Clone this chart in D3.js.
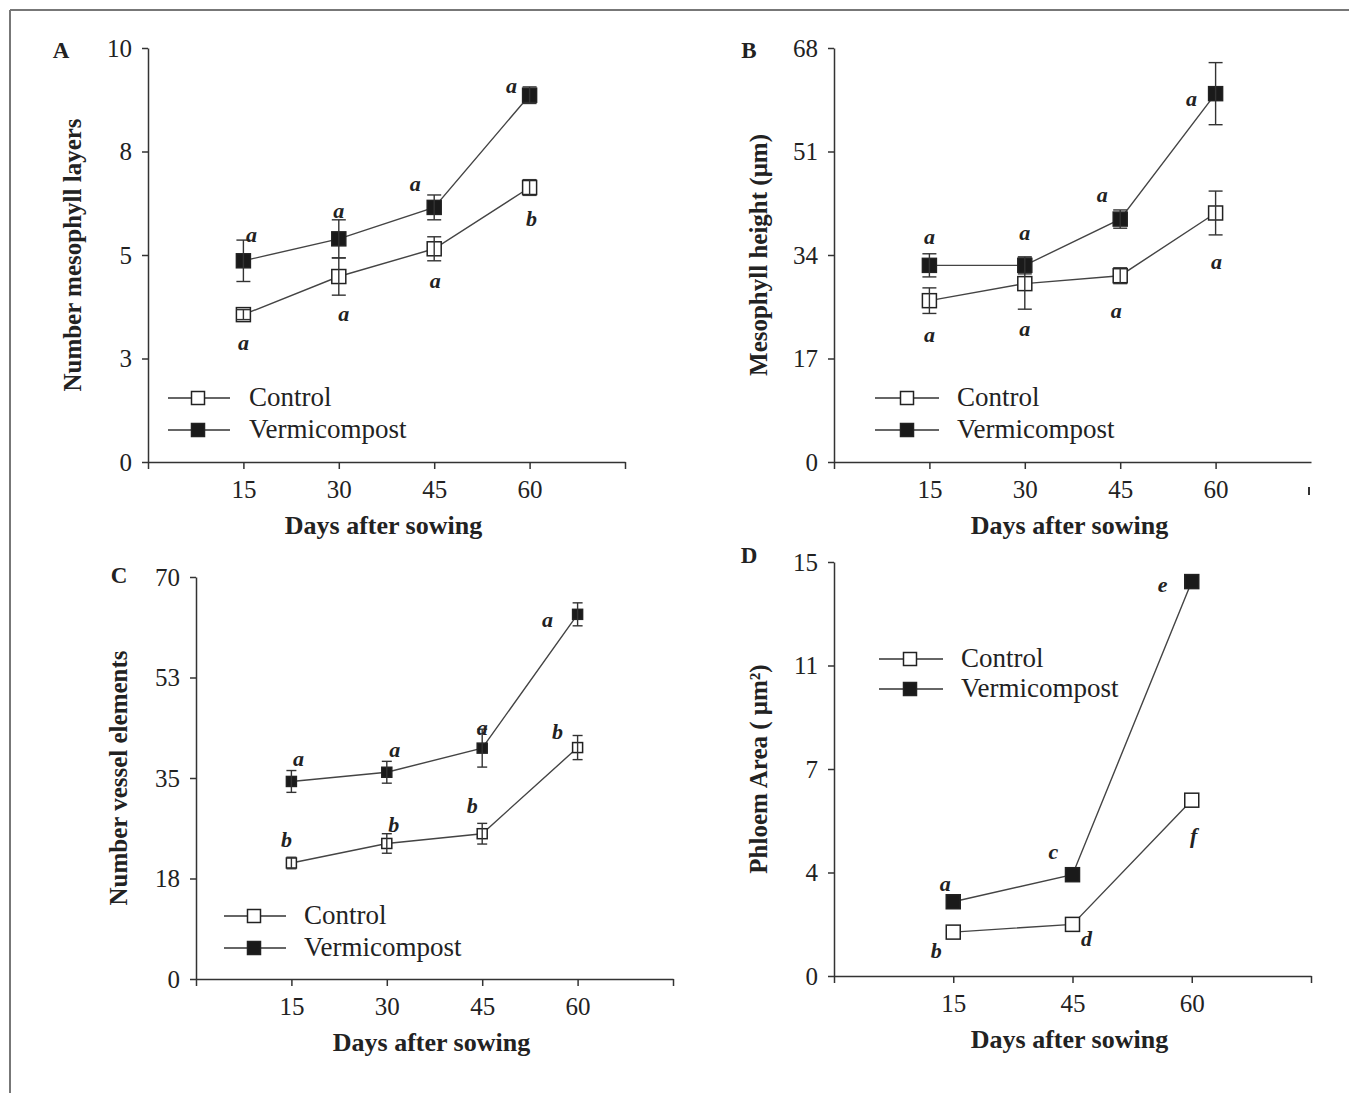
<!DOCTYPE html>
<html>
<head>
<meta charset="utf-8">
<script src="https://cdn.jsdelivr.net/npm/d3@7"></script>
<style>
  body { margin: 0; background: #fff; }
  svg text { font-family: "Liberation Serif", "Times New Roman", serif; fill: #222; }
</style>
</head>
<body>
<svg id="chart" width="1349" height="1093"></svg>
<script>
// ---- data ----
const days = [15, 30, 45, 60];
const daysPhloem = ["15", "45", "60"];
const seriesNames = ["Control", "Vermicompost"];

// A: number of mesophyll layers
const layersControl = [3.56, 4.48, 5.15, 6.63];
const layersControlErr = [0.12, 0.45, 0.29, 0.19];
const layersVermi = [4.86, 5.39, 6.15, 8.86];
const layersVermiErr = [0.5, 0.46, 0.3, 0.2];
const layersLettersControl = ["a", "a", "a", "b"];
const layersLettersVermi = ["a", "a", "a", "a"];
const layersTicks = [0, 2.5, 5, 7.5, 10];
const layersTickLabels = ["0", "3", "5", "8", "10"];

// B: mesophyll height (um)
const heightControl = [26.5, 29.3, 30.6, 40.9];
const heightControlErr = [2.1, 4.2, 1.3, 3.6];
const heightVermi = [32.3, 32.3, 39.9, 60.5];
const heightVermiErr = [1.9, 1.4, 1.5, 5.1];
const heightLettersControl = ["a", "a", "a", "a"];
const heightLettersVermi = ["a", "a", "a", "a"];
const heightTicks = [0, 17, 34, 51, 68];
const heightTickLabels = ["0", "17", "34", "51", "68"];

// C: number of vessel elements
const vesselControl = [20.2, 23.6, 25.3, 40.3];
const vesselControlErr = [1.0, 1.7, 1.8, 2.1];
const vesselVermi = [34.4, 36.0, 40.2, 63.5];
const vesselVermiErr = [1.9, 1.9, 3.3, 2.0];
const vesselLettersControl = ["b", "b", "b", "b"];
const vesselLettersVermi = ["a", "a", "a", "a"];
const vesselTicks = [0, 17.5, 35, 52.5, 70];
const vesselTickLabels = ["0", "18", "35", "53", "70"];

// D: phloem area (um2), no error bars
const phloemControl = [1.59, 1.87, 6.37];
const phloemVermi = [2.69, 3.67, 14.29];
const phloemLettersControl = ["b", "d", "f"];
const phloemLettersVermi = ["a", "c", "e"];
const phloemTicks = [0, 3.75, 7.5, 11.25, 15];
const phloemTickLabels = ["0", "4", "7", "11", "15"];

const svg = d3.select("#chart");

// frame lines of the figure box
svg.append("line").attr("x1", 10).attr("y1", 10).attr("x2", 10).attr("y2", 1093)
  .attr("stroke", "#777").attr("stroke-width", 2);
svg.append("line").attr("x1", 10).attr("y1", 10).attr("x2", 1349).attr("y2", 10)
  .attr("stroke", "#777").attr("stroke-width", 2);

const panels = [
  {
    label: "A", labelPos: [61, 58],
    ax: 148, xEnd: 625, yTop: 48, yBottom: 462,
    xDomain: [0, 75], xTicks: [0, 15, 30, 45, 60, 75], xTickLabels: ["", "15", "30", "45", "60", ""],
    xs: days, yMax: 10, yTicks: layersTicks, yTickLabels: layersTickLabels,
    yTitle: "Number mesophyll layers", yTitleX: 73,
    markerSize: 14,
    series: [
      { vals: layersControl, errs: layersControlErr, letters: layersLettersControl, filled: false,
        offsets: [[0, 29], [5, 38], [1, 33], [2, 32]] },
      { vals: layersVermi, errs: layersVermiErr, letters: layersLettersVermi, filled: true,
        offsets: [[8, -25], [0, -27], [-19, -22], [-18, -8]] }
    ],
    legend: { x0: 168, x1: 230, mx: 198, rows: [398, 430], tx: 249 }
  },
  {
    label: "B", labelPos: [749, 58],
    ax: 834, xEnd: 1311, yTop: 48, yBottom: 462,
    xDomain: [0, 75], xTicks: [0, 15, 30, 45, 60], xTickLabels: ["", "15", "30", "45", "60"],
    xs: days, yMax: 68, yTicks: heightTicks, yTickLabels: heightTickLabels,
    yTitle: "Mesophyll height (μm)", yTitleX: 759,
    markerSize: 14, strayMark: true,
    series: [
      { vals: heightControl, errs: heightControlErr, letters: heightLettersControl, filled: false,
        offsets: [[0, 35], [0, 46], [-4, 36], [1, 50]] },
      { vals: heightVermi, errs: heightVermiErr, letters: heightLettersVermi, filled: true,
        offsets: [[0, -27], [0, -31], [-18, -23], [-24, 6]] }
    ],
    legend: { x0: 875, x1: 939, mx: 907, rows: [398, 430], tx: 957 }
  },
  {
    label: "C", labelPos: [119, 583],
    ax: 196, xEnd: 673, yTop: 577, yBottom: 979,
    xDomain: [0, 75], xTicks: [0, 15, 30, 45, 60, 75], xTickLabels: ["", "15", "30", "45", "60", ""],
    xs: days, yMax: 70, yTicks: vesselTicks, yTickLabels: vesselTickLabels,
    yTitle: "Number vessel elements", yTitleX: 119,
    markerSize: 10,
    series: [
      { vals: vesselControl, errs: vesselControlErr, letters: vesselLettersControl, filled: false,
        offsets: [[-5, -22], [7, -17], [-10, -27], [-20, -15]] },
      { vals: vesselVermi, errs: vesselVermiErr, letters: vesselLettersVermi, filled: true,
        offsets: [[7, -21], [8, -21], [0, -19], [-30, 7]] }
    ],
    legend: { x0: 224, x1: 286, mx: 254, rows: [916, 948], tx: 304 }
  },
  {
    label: "D", labelPos: [749, 563],
    ax: 834, xEnd: 1311, yTop: 562, yBottom: 976,
    xDomain: [0, 4], xTicks: [0, 1, 2, 3, 4], xTickLabels: ["", "15", "45", "60", ""],
    xs: daysPhloem.map((d, i) => i + 1), yMax: 15, yTicks: phloemTicks, yTickLabels: phloemTickLabels,
    yTitle: "Phloem Area ( μm²)", yTitleX: 759,
    markerSize: 14,
    series: [
      { vals: phloemControl, errs: null, letters: phloemLettersControl, filled: false,
        offsets: [[-17, 20], [14, 16], [2, 37]] },
      { vals: phloemVermi, errs: null, letters: phloemLettersVermi, filled: true,
        offsets: [[-8, -17], [-19, -22], [-29, 4]] }
    ],
    legend: { x0: 879, x1: 943, mx: 910, rows: [659, 689], tx: 961 }
  }
];

function drawPanel(p) {
  const g = svg.append("g");
  const x = d3.scaleLinear().domain(p.xDomain).range([p.ax, p.xEnd]);
  const y = d3.scaleLinear().domain([0, p.yMax]).range([p.yBottom, p.yTop]);

  // axes
  const xAxis = g.append("g")
    .attr("transform", `translate(0,${p.yBottom})`)
    .call(d3.axisBottom(x).tickValues(p.xTicks)
      .tickFormat((d, i) => p.xTickLabels[i])
      .tickSize(7).tickSizeOuter(0).tickPadding(11));
  const yAxis = g.append("g")
    .attr("transform", `translate(${p.ax},0)`)
    .call(d3.axisLeft(y).tickValues(p.yTicks)
      .tickFormat((d, i) => p.yTickLabels[i])
      .tickSize(6).tickSizeOuter(0).tickPadding(10));
  [xAxis, yAxis].forEach(a => {
    a.attr("font-family", null).attr("font-size", null);
    a.selectAll("path, line").attr("stroke", "#333").attr("stroke-width", 1.5);
    a.selectAll("text").style("font-size", "25px").attr("fill", "#333");
  });

  if (p.strayMark) {
    g.append("line").attr("x1", p.xEnd - 2).attr("x2", p.xEnd - 2)
      .attr("y1", p.yBottom + 25).attr("y2", p.yBottom + 33)
      .attr("stroke", "#333").attr("stroke-width", 2);
  }

  // axis titles
  g.append("text")
    .attr("x", (p.ax + p.xEnd) / 2 - 3).attr("y", p.yBottom + 72)
    .attr("text-anchor", "middle")
    .style("font-size", "26px").style("font-weight", "bold")
    .text("Days after sowing");
  g.append("text")
    .attr("transform", `translate(${p.yTitleX + 8},${(p.yTop + p.yBottom) / 2}) rotate(-90)`)
    .attr("text-anchor", "middle")
    .style("font-size", "25px").style("font-weight", "bold")
    .text(p.yTitle);

  // panel letter
  g.append("text")
    .attr("x", p.labelPos[0]).attr("y", p.labelPos[1])
    .attr("text-anchor", "middle")
    .style("font-size", "23px").style("font-weight", "bold")
    .text(p.label);

  const s = p.markerSize;
  const line = d3.line().x((d, i) => x(p.xs[i])).y(d => y(d));

  p.series.forEach(ser => {
    g.append("path").datum(ser.vals)
      .attr("d", line)
      .attr("fill", "none").attr("stroke", "#444").attr("stroke-width", 1.4);
  });

  p.series.forEach(ser => {
    g.selectAll(null).data(ser.vals).join("rect")
      .attr("x", (d, i) => x(p.xs[i]) - s / 2)
      .attr("y", d => y(d) - s / 2)
      .attr("width", s).attr("height", s)
      .attr("fill", ser.filled ? "#1a1a1a" : "#fff")
      .attr("stroke", "#222").attr("stroke-width", 1.5);

    if (ser.errs) {
      ser.vals.forEach((v, i) => {
        const cx = x(p.xs[i]);
        const e = ser.errs[i];
        const eb = g.append("g").attr("stroke", "#333").attr("stroke-width", 1.4);
        eb.append("line").attr("x1", cx).attr("x2", cx).attr("y1", y(v - e)).attr("y2", y(v + e));
        [v - e, v + e].forEach(yy => {
          eb.append("line").attr("x1", cx - s / 2).attr("x2", cx + s / 2)
            .attr("y1", y(yy)).attr("y2", y(yy));
        });
      });
    }
  });

  // significance letters
  p.series.forEach(ser => {
    g.selectAll(null).data(ser.vals).join("text")
      .attr("x", (d, i) => x(p.xs[i]) + ser.offsets[i][0])
      .attr("y", (d, i) => y(d) + ser.offsets[i][1] + 6)
      .attr("text-anchor", "middle")
      .style("font-size", "22px").style("font-weight", "bold").style("font-style", "italic")
      .text((d, i) => ser.letters[i]);
  });

  // legend
  const L = p.legend;
  seriesNames.forEach((name, k) => {
    const ry = L.rows[k];
    g.append("line").attr("x1", L.x0).attr("x2", L.x1).attr("y1", ry).attr("y2", ry)
      .attr("stroke", "#333").attr("stroke-width", 1.4);
    g.append("rect")
      .attr("x", L.mx - 6.5).attr("y", ry - 6.5).attr("width", 13).attr("height", 13)
      .attr("fill", k === 1 ? "#1a1a1a" : "#fff")
      .attr("stroke", "#222").attr("stroke-width", 1.5);
    g.append("text")
      .attr("x", L.tx).attr("y", ry + 8)
      .style("font-size", "27px")
      .text(name);
  });
}

panels.forEach(drawPanel);
</script>
</body>
</html>
